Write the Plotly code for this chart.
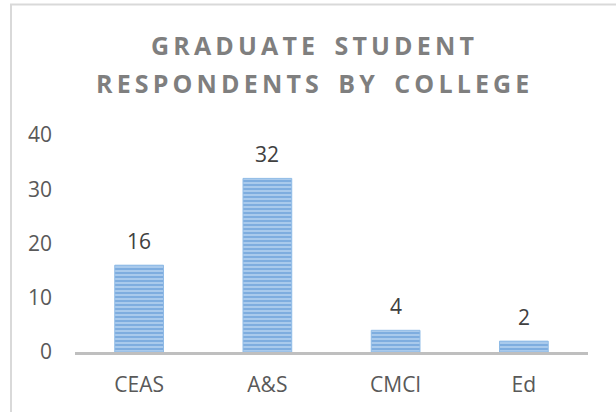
import plotly.graph_objects as go

categories = ["CEAS", "A&S", "CMCI", "Ed"]
values = [16, 32, 4, 2]
y_ticks = [0, 10, 20, 30, 40]
title_line1 = "GRADUATE STUDENT"
title_line2 = "RESPONDENTS BY COLLEGE"

W, H = 616, 412
ML, MR, MT, MB = 75, 28, 135, 60
PW, PH = W - ML - MR, H - MT - MB


def px_x(px):
    return (px - ML) / PW


def px_y(py):
    return (H - MB - py) / PH


def spaced(s):
    words = s.split(" ")
    return "\u00a0\u00a0\u00a0".join("\u2009".join(list(w)) for w in words)


FONT = "Open Sans"
fig = go.Figure(
    go.Bar(
        x=categories,
        y=values,
        width=0.38,
        marker=dict(
            color="#b3d1ef",
            line=dict(color="#8fbbe6", width=1),
            pattern=dict(shape="-", fgcolor="#4a8ad0", size=4, solidity=0.6, fillmode="overlay"),
        ),
        hoverinfo="skip",
    )
)

annotations = []
for c, v in zip(categories, values):
    annotations.append(dict(x=c, y=v, xref="x", yref="y", text=str(v), showarrow=False,
                            yshift=24, yanchor="middle",
                            font=dict(family=FONT, size=21, color="#404040")))
for txt, py in [(title_line1, 44.5), (title_line2, 82.5)]:
    annotations.append(dict(x=px_x(312), y=px_y(py), xref="paper", yref="paper",
                            text="<b>" + spaced(txt) + "</b>", showarrow=False,
                            xanchor="center", yanchor="middle",
                            font=dict(family=FONT, size=25, color="#7f7f7f")))

fig.update_layout(
    width=W, height=H,
    margin=dict(l=ML, r=MR, t=MT, b=MB, pad=0),
    paper_bgcolor="white", plot_bgcolor="white",
    showlegend=False,
    annotations=annotations,
    shapes=[dict(type="rect", xref="paper", yref="paper",
                 x0=px_x(11), x1=px_x(640), y0=px_y(430), y1=px_y(4.5),
                 line=dict(color="#d9d9d9", width=2), fillcolor="rgba(0,0,0,0)", layer="below")],
    xaxis=dict(showline=True, linecolor="#bfbfbf", linewidth=3, showgrid=False,
               ticks="", ticklabelstandoff=12, fixedrange=True,
               tickfont=dict(family=FONT, size=21, color="#595959")),
    yaxis=dict(range=[0, 40], tickvals=y_ticks, showline=False, showgrid=False,
               zeroline=False, ticks="", ticklabelstandoff=22, fixedrange=True,
               tickfont=dict(family=FONT, size=21, color="#595959")),
)

fig.write_html("out.html", config={"displayModeBar": False},
               post_script="document.body.style.margin='0px';")
